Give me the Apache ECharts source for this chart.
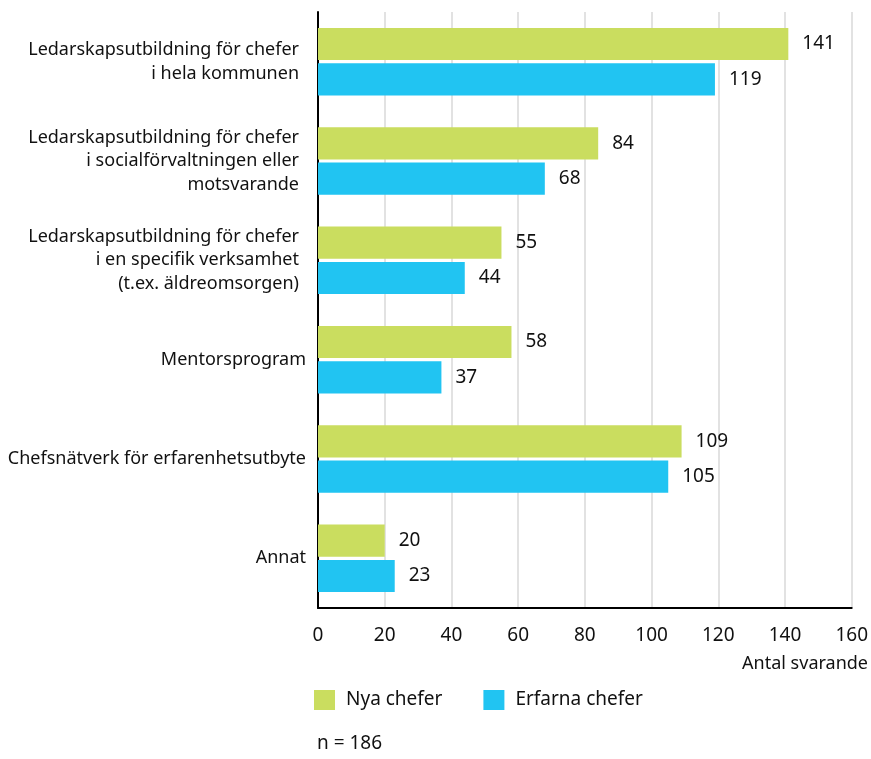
<!DOCTYPE html>
<html><head><meta charset="utf-8">
<script src="https://cdn.jsdelivr.net/npm/echarts@6/dist/echarts.min.js"></script>
<style>html,body{margin:0;padding:0;background:#fff}#c{width:871px;height:759px}</style>
</head><body><div id="c"></div>
<script>
const categories = [
  "Ledarskapsutbildning för chefer\ni hela kommunen",
  "Ledarskapsutbildning för chefer\ni socialförvaltningen eller\nmotsvarande",
  "Ledarskapsutbildning för chefer\ni en specifik verksamhet\n(t.ex. äldreomsorgen)",
  "Mentorsprogram",
  "Chefsnätverk för erfarenhetsutbyte",
  "Annat"
];
const nyaChefer = [141, 84, 55, 58, 109, 20];
const erfarnaChefer = [119, 68, 44, 37, 105, 23];
const seriesNames = ["Nya chefer", "Erfarna chefer"];
const xTicks = [0, 20, 40, 60, 80, 100, 120, 140, 160];

const FONT = "Noto Sans";
const catData = categories.map(c => c.indexOf('\n') >= 0
  ? {value: c, textStyle: {padding: [9, 7, 0, 0]}}
  : {value: c});
const chart = echarts.init(document.getElementById('c'), null, {renderer: 'canvas'});
chart.setOption({
  animation: false,
  textStyle: {fontFamily: FONT, color: '#111'},
  grid: {left: 318, right: 19, top: 12, bottom: 151, containLabel: false},
  legend: {
    left: 309, top: 685, itemWidth: 21, itemHeight: 20, itemGap: 41,
    icon: 'rect',
    textStyle: {fontSize: 19, color: '#111', fontFamily: FONT, padding: [0, 0, 0, 6]},
    data: seriesNames
  },
  graphic: [
    {type: 'text', left: 317, top: 734, style: {text: 'n = 186', font: '19px "Noto Sans"', fill: '#111'}},
    {type: 'text', right: 3, top: 655, style: {text: 'Antal svarande', font: '18px "Noto Sans"', fill: '#111'}}
  ],
  xAxis: {
    type: 'value', min: xTicks[0], max: xTicks[xTicks.length - 1], interval: 20,
    axisLine: {show: true, lineStyle: {color: '#000', width: 2}},
    axisTick: {show: false},
    axisLabel: {fontSize: 19, color: '#111', margin: 18, fontFamily: FONT},
    splitLine: {show: true, lineStyle: {color: '#d9d9d9', width: 1.5}}
  },
  yAxis: {
    type: 'category', data: catData, inverse: true,
    axisLine: {show: true, lineStyle: {color: '#000', width: 2}},
    axisTick: {show: false},
    axisLabel: {fontSize: 18, color: '#111', margin: 12, lineHeight: 23.5, align: 'right', fontFamily: FONT}
  },
  series: [
    {
      name: seriesNames[0], type: 'bar', data: nyaChefer,
      barCategoryGap: '32%', barGap: '10%',
      itemStyle: {color: '#cadd5f'},
      label: {show: true, position: 'right', distance: 14, fontSize: 19, color: '#111', fontFamily: FONT}
    },
    {
      name: seriesNames[1], type: 'bar', data: erfarnaChefer,
      barCategoryGap: '32%', barGap: '10%',
      itemStyle: {color: '#21c4f2'},
      label: {show: true, position: 'right', distance: 14, fontSize: 19, color: '#111', fontFamily: FONT}
    }
  ]
});
</script></body></html>
